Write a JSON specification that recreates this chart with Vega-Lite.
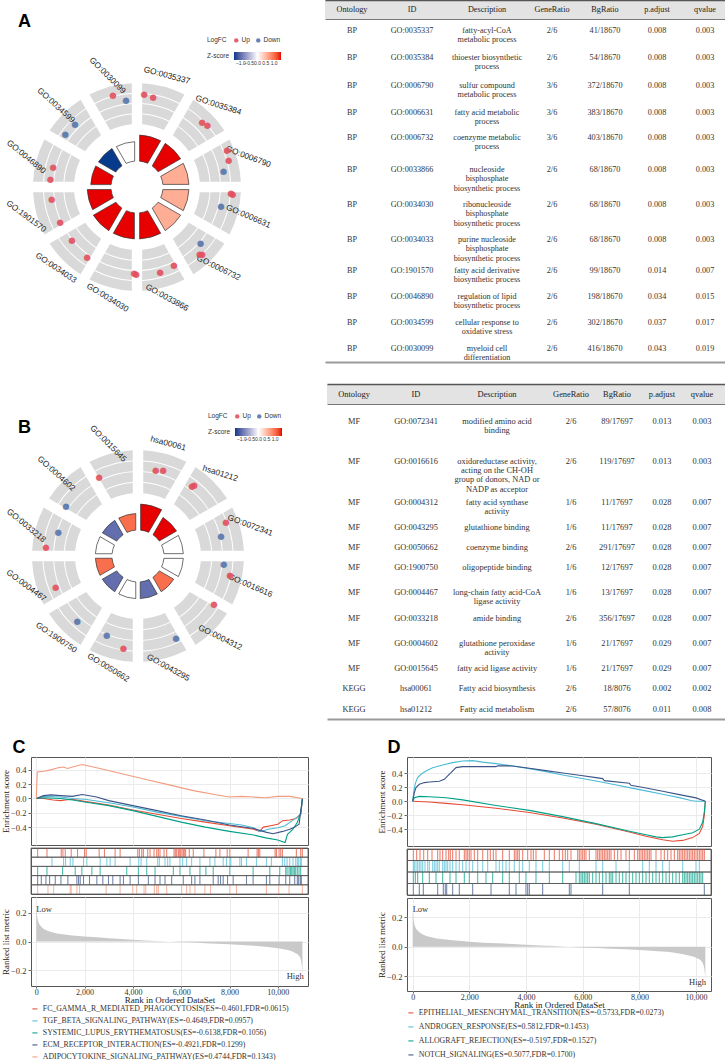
{
"$schema": "https://vega.github.io/schema/vega-lite/v6.json",
"background": "white",
"padding": {"left": 0, "top": 0, "right": 0, "bottom": 0},
"config": {
 "view": {"stroke": null},
 "font": "Liberation Sans",
 "axis": {"labelFont": "Liberation Serif", "titleFont": "Liberation Serif", "labelFontSize": 8.5, "titleFontSize": 9, "labelColor": "#333", "titleColor": "#222", "titleFontWeight": "normal", "tickColor": "#666", "domainColor": "#666", "gridColor": "#EBEBEB", "tickSize": 3, "labelPadding": 2},
 "title": {"font": "Liberation Sans", "fontSize": 18, "fontWeight": "bold", "anchor": "start", "color": "#000"}
},
"datasets": {
 "cols": [
  {"key": "ont", "c": 0, "h": "Ontology"}, {"key": "id", "c": 1, "h": "ID"}, {"key": "desc", "c": 2, "h": "Description"}, {"key": "gr", "c": 3, "h": "GeneRatio"}, {"key": "bg", "c": 4, "h": "BgRatio"}, {"key": "padj", "c": 5, "h": "p.adjust"}, {"key": "q", "c": 6, "h": "qvalue"}
 ],
 "tableA": [
  {"r": 1, "ont": "BP", "id": "GO:0035337", "desc": "fatty-acyl-CoA\nmetabolic process", "gr": "2/6", "bg": "41/18670", "padj": "0.008", "q": "0.003"},
  {"r": 2, "ont": "BP", "id": "GO:0035384", "desc": "thioester biosynthetic\nprocess", "gr": "2/6", "bg": "54/18670", "padj": "0.008", "q": "0.003"},
  {"r": 3, "ont": "BP", "id": "GO:0006790", "desc": "sulfur compound\nmetabolic process", "gr": "3/6", "bg": "372/18670", "padj": "0.008", "q": "0.003"},
  {"r": 4, "ont": "BP", "id": "GO:0006631", "desc": "fatty acid metabolic\nprocess", "gr": "3/6", "bg": "383/18670", "padj": "0.008", "q": "0.003"},
  {"r": 5, "ont": "BP", "id": "GO:0006732", "desc": "coenzyme metabolic\nprocess", "gr": "3/6", "bg": "403/18670", "padj": "0.008", "q": "0.003"},
  {"r": 6, "ont": "BP", "id": "GO:0033866", "desc": "nucleoside\nbisphosphate\nbiosynthetic process", "gr": "2/6", "bg": "68/18670", "padj": "0.008", "q": "0.003"},
  {"r": 7, "ont": "BP", "id": "GO:0034030", "desc": "ribonucleoside\nbisphosphate\nbiosynthetic process", "gr": "2/6", "bg": "68/18670", "padj": "0.008", "q": "0.003"},
  {"r": 8, "ont": "BP", "id": "GO:0034033", "desc": "purine nucleoside\nbisphosphate\nbiosynthetic process", "gr": "2/6", "bg": "68/18670", "padj": "0.008", "q": "0.003"},
  {"r": 9, "ont": "BP", "id": "GO:1901570", "desc": "fatty acid derivative\nbiosynthetic process", "gr": "2/6", "bg": "99/18670", "padj": "0.014", "q": "0.007"},
  {"r": 10, "ont": "BP", "id": "GO:0046890", "desc": "regulation of lipid\nbiosynthetic process", "gr": "2/6", "bg": "198/18670", "padj": "0.034", "q": "0.015"},
  {"r": 11, "ont": "BP", "id": "GO:0034599", "desc": "cellular response to\noxidative stress", "gr": "2/6", "bg": "302/18670", "padj": "0.037", "q": "0.017"},
  {"r": 12, "ont": "BP", "id": "GO:0030099", "desc": "myeloid cell\ndifferentiation", "gr": "2/6", "bg": "416/18670", "padj": "0.043", "q": "0.019"}
 ],
 "tableB": [
  {"r": 1, "ont": "MF", "id": "GO:0072341", "desc": "modified amino acid\nbinding", "gr": "2/6", "bg": "89/17697", "padj": "0.013", "q": "0.003"},
  {"r": 2, "ont": "MF", "id": "GO:0016616", "desc": "oxidoreductase activity,\nacting on the CH-OH\ngroup of donors, NAD or\nNADP as acceptor", "gr": "2/6", "bg": "119/17697", "padj": "0.013", "q": "0.003"},
  {"r": 3, "ont": "MF", "id": "GO:0004312", "desc": "fatty acid synthase\nactivity", "gr": "1/6", "bg": "11/17697", "padj": "0.028", "q": "0.007"},
  {"r": 4, "ont": "MF", "id": "GO:0043295", "desc": "glutathione binding", "gr": "1/6", "bg": "11/17697", "padj": "0.028", "q": "0.007"},
  {"r": 5, "ont": "MF", "id": "GO:0050662", "desc": "coenzyme binding", "gr": "2/6", "bg": "291/17697", "padj": "0.028", "q": "0.007"},
  {"r": 6, "ont": "MF", "id": "GO:1900750", "desc": "oligopeptide binding", "gr": "1/6", "bg": "12/17697", "padj": "0.028", "q": "0.007"},
  {"r": 7, "ont": "MF", "id": "GO:0004467", "desc": "long-chain fatty acid-CoA\nligase activity", "gr": "1/6", "bg": "13/17697", "padj": "0.028", "q": "0.007"},
  {"r": 8, "ont": "MF", "id": "GO:0033218", "desc": "amide binding", "gr": "2/6", "bg": "356/17697", "padj": "0.028", "q": "0.007"},
  {"r": 9, "ont": "MF", "id": "GO:0004602", "desc": "glutathione peroxidase\nactivity", "gr": "1/6", "bg": "21/17697", "padj": "0.029", "q": "0.007"},
  {"r": 10, "ont": "MF", "id": "GO:0015645", "desc": "fatty acid ligase activity", "gr": "1/6", "bg": "21/17697", "padj": "0.029", "q": "0.007"},
  {"r": 11, "ont": "KEGG", "id": "hsa00061", "desc": "Fatty acid biosynthesis", "gr": "2/6", "bg": "18/8076", "padj": "0.002", "q": "0.002"},
  {"r": 12, "ont": "KEGG", "id": "hsa01212", "desc": "Fatty acid metabolism", "gr": "2/6", "bg": "57/8076", "padj": "0.011", "q": "0.008"}
 ],
 "termsA": [
  {"k": 0, "term": "GO:0035337", "z": 1.414, "padj": 0.008},
  {"k": 1, "term": "GO:0035384", "z": 1.414, "padj": 0.008},
  {"k": 2, "term": "GO:0006790", "z": 0.577, "padj": 0.008},
  {"k": 3, "term": "GO:0006631", "z": 0.577, "padj": 0.008},
  {"k": 4, "term": "GO:0006732", "z": 0.577, "padj": 0.008},
  {"k": 5, "term": "GO:0033866", "z": 1.414, "padj": 0.008},
  {"k": 6, "term": "GO:0034030", "z": 1.414, "padj": 0.008},
  {"k": 7, "term": "GO:0034033", "z": 1.414, "padj": 0.008},
  {"k": 8, "term": "GO:1901570", "z": 1.414, "padj": 0.014},
  {"k": 9, "term": "GO:0046890", "z": 1.414, "padj": 0.034},
  {"k": 10, "term": "GO:0034599", "z": -1.414, "padj": 0.037},
  {"k": 11, "term": "GO:0030099", "z": 0, "padj": 0.043}
 ],
 "genesA": [
  {"term": "GO:0035337", "pos": 0.15, "lfc": 0.9, "dir": "Up"},
  {"term": "GO:0035337", "pos": 0.34, "lfc": 0.75, "dir": "Up"},
  {"term": "GO:0035384", "pos": 1.5, "lfc": 0.81, "dir": "Up"},
  {"term": "GO:0035384", "pos": 1.62, "lfc": 1.0, "dir": "Up"},
  {"term": "GO:0006790", "pos": 2.25, "lfc": 1.33, "dir": "Up"},
  {"term": "GO:0006790", "pos": 2.46, "lfc": 1.15, "dir": "Up"},
  {"term": "GO:0006790", "pos": 2.65, "lfc": 0.38, "dir": "Down"},
  {"term": "GO:0006631", "pos": 3.13, "lfc": 1.02, "dir": "Up"},
  {"term": "GO:0006631", "pos": 3.14, "lfc": 1.19, "dir": "Up"},
  {"term": "GO:0006631", "pos": 3.42, "lfc": 0.21, "dir": "Down"},
  {"term": "GO:0006732", "pos": 4.38, "lfc": 0.05, "dir": "Down"},
  {"term": "GO:0006732", "pos": 4.52, "lfc": 0.91, "dir": "Up"},
  {"term": "GO:0006732", "pos": 4.56, "lfc": 0.75, "dir": "Up"},
  {"term": "GO:0033866", "pos": 5.16, "lfc": 0.25, "dir": "Up"},
  {"term": "GO:0033866", "pos": 5.49, "lfc": 0.38, "dir": "Up"},
  {"term": "GO:0034030", "pos": 6.02, "lfc": 0.33, "dir": "Up"},
  {"term": "GO:0034030", "pos": 6.06, "lfc": 0.17, "dir": "Up"},
  {"term": "GO:0034033", "pos": 7.18, "lfc": 0.2, "dir": "Up"},
  {"term": "GO:0034033", "pos": 7.69, "lfc": 0.0, "dir": "Up"},
  {"term": "GO:1901570", "pos": 8.19, "lfc": 0.02, "dir": "Up"},
  {"term": "GO:1901570", "pos": 8.73, "lfc": 0.21, "dir": "Up"},
  {"term": "GO:0046890", "pos": 9.17, "lfc": 0.3, "dir": "Up"},
  {"term": "GO:0046890", "pos": 9.45, "lfc": 0.21, "dir": "Up"},
  {"term": "GO:0034599", "pos": 10.21, "lfc": 0.5, "dir": "Down"},
  {"term": "GO:0034599", "pos": 10.51, "lfc": 0.42, "dir": "Down"},
  {"term": "GO:0030099", "pos": 11.51, "lfc": 1.1, "dir": "Up"},
  {"term": "GO:0030099", "pos": 11.76, "lfc": 0.34, "dir": "Down"}
 ],
 "termsB": [
  {"k": 0, "term": "hsa00061", "z": 1.414, "padj": 0.002},
  {"k": 1, "term": "hsa01212", "z": 1.414, "padj": 0.011},
  {"k": 2, "term": "GO:0072341", "z": 0, "padj": 0.013},
  {"k": 3, "term": "GO:0016616", "z": 0, "padj": 0.013},
  {"k": 4, "term": "GO:0004312", "z": 1, "padj": 0.028},
  {"k": 5, "term": "GO:0043295", "z": -1, "padj": 0.028},
  {"k": 6, "term": "GO:0050662", "z": 0, "padj": 0.028},
  {"k": 7, "term": "GO:1900750", "z": -1, "padj": 0.028},
  {"k": 8, "term": "GO:0004467", "z": 1, "padj": 0.028},
  {"k": 9, "term": "GO:0033218", "z": 0, "padj": 0.028},
  {"k": 10, "term": "GO:0004602", "z": -1, "padj": 0.029},
  {"k": 11, "term": "GO:0015645", "z": 1, "padj": 0.029}
 ],
 "genesB": [
  {"term": "hsa00061", "pos": 0.39, "lfc": 0.38, "dir": "Up"},
  {"term": "hsa00061", "pos": 0.54, "lfc": 0.59, "dir": "Up"},
  {"term": "hsa01212", "pos": 1.26, "lfc": 0.42, "dir": "Up"},
  {"term": "hsa01212", "pos": 1.28, "lfc": 0.64, "dir": "Up"},
  {"term": "GO:0072341", "pos": 2.3, "lfc": 1.02, "dir": "Up"},
  {"term": "GO:0072341", "pos": 2.55, "lfc": 0.14, "dir": "Down"},
  {"term": "GO:0016616", "pos": 3.18, "lfc": 0.21, "dir": "Down"},
  {"term": "GO:0016616", "pos": 3.38, "lfc": 0.99, "dir": "Up"},
  {"term": "GO:0004312", "pos": 4.08, "lfc": 0.6, "dir": "Up"},
  {"term": "GO:0043295", "pos": 5.17, "lfc": 0.6, "dir": "Down"},
  {"term": "GO:0050662", "pos": 6.3, "lfc": 0.95, "dir": "Up"},
  {"term": "GO:0050662", "pos": 6.72, "lfc": 0.1, "dir": "Down"},
  {"term": "GO:1900750", "pos": 7.44, "lfc": 0.47, "dir": "Down"},
  {"term": "GO:0004467", "pos": 8.31, "lfc": 0.4, "dir": "Up"},
  {"term": "GO:0033218", "pos": 9.18, "lfc": 0.84, "dir": "Up"},
  {"term": "GO:0033218", "pos": 9.55, "lfc": -0.09, "dir": "Down"},
  {"term": "GO:0004602", "pos": 10.16, "lfc": 0.38, "dir": "Down"},
  {"term": "GO:0015645", "pos": 11.13, "lfc": 0.42, "dir": "Up"}
 ],
 "setsC": [
  {"g": "FC", "label": "FC_GAMMA_R_MEDIATED_PHAGOCYTOSIS(ES=-0.4601,FDR=0.0615)"},
  {"g": "TGF", "label": "TGF_BETA_SIGNALING_PATHWAY(ES=-0.4649,FDR=0.0957)"},
  {"g": "SLE", "label": "SYSTEMIC_LUPUS_ERYTHEMATOSUS(ES=-0.6138,FDR=0.1056)"},
  {"g": "ECM", "label": "ECM_RECEPTOR_INTERACTION(ES=-0.4921,FDR=0.1299)"},
  {"g": "ADIPO", "label": "ADIPOCYTOKINE_SIGNALING_PATHWAY(ES=0.4744,FDR=0.1343)"}
 ],
 "setsD": [
  {"g": "EMT", "label": "EPITHELIAL_MESENCHYMAL_TRANSITION(ES=-0.5733,FDR=0.0273)"},
  {"g": "AND", "label": "ANDROGEN_RESPONSE(ES=0.5812,FDR=0.1453)"},
  {"g": "ALLO", "label": "ALLOGRAFT_REJECTION(ES=-0.5197,FDR=0.1527)"},
  {"g": "NOTCH", "label": "NOTCH_SIGNALING(ES=0.5077,FDR=0.1700)"}
 ],
 "esC": [
  {"g":"FC","x":0,"y":0},{"g":"FC","x":300,"y":0.0},{"g":"FC","x":700,"y":-0.02},{"g":"FC","x":1000,"y":-0.03},{"g":"FC","x":1200,"y":-0.02},{"g":"FC","x":1500,"y":-0.01},{"g":"FC","x":2000,"y":-0.04},{"g":"FC","x":3000,"y":-0.09},{"g":"FC","x":4000,"y":-0.16},{"g":"FC","x":5000,"y":-0.22},{"g":"FC","x":6000,"y":-0.28},{"g":"FC","x":7000,"y":-0.33},{"g":"FC","x":8000,"y":-0.38},{"g":"FC","x":9000,"y":-0.43},{"g":"FC","x":9250,"y":-0.46},{"g":"FC","x":9400,"y":-0.4},{"g":"FC","x":9700,"y":-0.38},{"g":"FC","x":10000,"y":-0.36},{"g":"FC","x":10200,"y":-0.31},{"g":"FC","x":10500,"y":-0.3},{"g":"FC","x":10750,"y":-0.28},{"g":"FC","x":10950,"y":-0.22},{"g":"FC","x":11020,"y":0},
  {"g":"TGF","x":0,"y":0},{"g":"TGF","x":300,"y":0.03},{"g":"TGF","x":1000,"y":0.02},{"g":"TGF","x":1500,"y":0.0},{"g":"TGF","x":2000,"y":-0.01},{"g":"TGF","x":3000,"y":-0.06},{"g":"TGF","x":4000,"y":-0.12},{"g":"TGF","x":5000,"y":-0.19},{"g":"TGF","x":6000,"y":-0.25},{"g":"TGF","x":7000,"y":-0.31},{"g":"TGF","x":8000,"y":-0.35},{"g":"TGF","x":8500,"y":-0.37},{"g":"TGF","x":9000,"y":-0.41},{"g":"TGF","x":9250,"y":-0.465},{"g":"TGF","x":9600,"y":-0.43},{"g":"TGF","x":10000,"y":-0.41},{"g":"TGF","x":10300,"y":-0.38},{"g":"TGF","x":10600,"y":-0.31},{"g":"TGF","x":10800,"y":-0.26},{"g":"TGF","x":10950,"y":-0.22},{"g":"TGF","x":11020,"y":0},
  {"g":"SLE","x":0,"y":0},{"g":"SLE","x":300,"y":0.01},{"g":"SLE","x":1000,"y":0.0},{"g":"SLE","x":1500,"y":-0.02},{"g":"SLE","x":2000,"y":-0.05},{"g":"SLE","x":3000,"y":-0.1},{"g":"SLE","x":4000,"y":-0.17},{"g":"SLE","x":5000,"y":-0.25},{"g":"SLE","x":6000,"y":-0.33},{"g":"SLE","x":7000,"y":-0.4},{"g":"SLE","x":8000,"y":-0.46},{"g":"SLE","x":9000,"y":-0.51},{"g":"SLE","x":9500,"y":-0.55},{"g":"SLE","x":10000,"y":-0.58},{"g":"SLE","x":10300,"y":-0.614},{"g":"SLE","x":10400,"y":-0.5},{"g":"SLE","x":10600,"y":-0.44},{"g":"SLE","x":10800,"y":-0.34},{"g":"SLE","x":10950,"y":-0.2},{"g":"SLE","x":11020,"y":0},
  {"g":"ECM","x":0,"y":0},{"g":"ECM","x":300,"y":0.04},{"g":"ECM","x":600,"y":0.05},{"g":"ECM","x":1000,"y":0.04},{"g":"ECM","x":1500,"y":0.03},{"g":"ECM","x":1900,"y":0.055},{"g":"ECM","x":2500,"y":0.02},{"g":"ECM","x":3000,"y":-0.03},{"g":"ECM","x":4000,"y":-0.1},{"g":"ECM","x":5000,"y":-0.17},{"g":"ECM","x":6000,"y":-0.24},{"g":"ECM","x":7000,"y":-0.3},{"g":"ECM","x":8000,"y":-0.37},{"g":"ECM","x":9000,"y":-0.42},{"g":"ECM","x":9500,"y":-0.47},{"g":"ECM","x":9800,"y":-0.492},{"g":"ECM","x":10200,"y":-0.46},{"g":"ECM","x":10500,"y":-0.43},{"g":"ECM","x":10700,"y":-0.4},{"g":"ECM","x":10880,"y":-0.36},{"g":"ECM","x":10960,"y":-0.15},{"g":"ECM","x":11020,"y":0},
  {"g":"ADIPO","x":0,"y":0},{"g":"ADIPO","x":40,"y":0.37},{"g":"ADIPO","x":300,"y":0.38},{"g":"ADIPO","x":600,"y":0.4},{"g":"ADIPO","x":900,"y":0.43},{"g":"ADIPO","x":1100,"y":0.44},{"g":"ADIPO","x":1300,"y":0.42},{"g":"ADIPO","x":1500,"y":0.44},{"g":"ADIPO","x":1900,"y":0.474},{"g":"ADIPO","x":2500,"y":0.43},{"g":"ADIPO","x":3500,"y":0.35},{"g":"ADIPO","x":4500,"y":0.27},{"g":"ADIPO","x":5500,"y":0.19},{"g":"ADIPO","x":6500,"y":0.11},{"g":"ADIPO","x":7500,"y":0.05},{"g":"ADIPO","x":8000,"y":0.02},{"g":"ADIPO","x":8500,"y":0.03},{"g":"ADIPO","x":9000,"y":0.02},{"g":"ADIPO","x":9500,"y":0.01},{"g":"ADIPO","x":10000,"y":0.03},{"g":"ADIPO","x":10500,"y":0.03},{"g":"ADIPO","x":11020,"y":0}
 ],
 "rugC": [
  {"g":"FC","x":55},{"g":"FC","x":441},{"g":"FC","x":1033},{"g":"FC","x":1102},{"g":"FC","x":1198},{"g":"FC","x":1446},{"g":"FC","x":1707},{"g":"FC","x":1997},{"g":"FC","x":2066},{"g":"FC","x":2603},{"g":"FC","x":2823},{"g":"FC","x":3263},{"g":"FC","x":3470},{"g":"FC","x":4200},{"g":"FC","x":4269},{"g":"FC","x":4365},{"g":"FC","x":4434},{"g":"FC","x":4613},{"g":"FC","x":4709},{"g":"FC","x":4875},{"g":"FC","x":4985},{"g":"FC","x":5054},{"g":"FC","x":5122},{"g":"FC","x":5288},{"g":"FC","x":5398},{"g":"FC","x":5701},{"g":"FC","x":5756},{"g":"FC","x":5811},{"g":"FC","x":5880},{"g":"FC","x":5921},{"g":"FC","x":5976},{"g":"FC","x":6031},{"g":"FC","x":6086},{"g":"FC","x":6128},{"g":"FC","x":6183},{"g":"FC","x":6334},{"g":"FC","x":6499},{"g":"FC","x":6940},{"g":"FC","x":7436},{"g":"FC","x":7601},{"g":"FC","x":7904},{"g":"FC","x":8014},{"g":"FC","x":8771},{"g":"FC","x":9143},{"g":"FC","x":9198},{"g":"FC","x":9253},{"g":"FC","x":9887},{"g":"FC","x":9942},{"g":"FC","x":10052},{"g":"FC","x":10121},{"g":"FC","x":10190},{"g":"FC","x":10768},{"g":"FC","x":10947},{"g":"FC","x":11016},
  {"g":"TGF","x":647},{"g":"TGF","x":1129},{"g":"TGF","x":1212},{"g":"TGF","x":1405},{"g":"TGF","x":1515},{"g":"TGF","x":1955},{"g":"TGF","x":2093},{"g":"TGF","x":2644},{"g":"TGF","x":2919},{"g":"TGF","x":3057},{"g":"TGF","x":3263},{"g":"TGF","x":3883},{"g":"TGF","x":4241},{"g":"TGF","x":4338},{"g":"TGF","x":4572},{"g":"TGF","x":5026},{"g":"TGF","x":5095},{"g":"TGF","x":5329},{"g":"TGF","x":5439},{"g":"TGF","x":5535},{"g":"TGF","x":5949},{"g":"TGF","x":6059},{"g":"TGF","x":6224},{"g":"TGF","x":6431},{"g":"TGF","x":6775},{"g":"TGF","x":7188},{"g":"TGF","x":7394},{"g":"TGF","x":7739},{"g":"TGF","x":7876},{"g":"TGF","x":8014},{"g":"TGF","x":8055},{"g":"TGF","x":8427},{"g":"TGF","x":8496},{"g":"TGF","x":8703},{"g":"TGF","x":9116},{"g":"TGF","x":9529},{"g":"TGF","x":9735},{"g":"TGF","x":10190},{"g":"TGF","x":10286},{"g":"TGF","x":10383},{"g":"TGF","x":10493},{"g":"TGF","x":10630},{"g":"TGF","x":10741},{"g":"TGF","x":10809},{"g":"TGF","x":10864},{"g":"TGF","x":10933},{"g":"TGF","x":10975},
  {"g":"SLE","x":55},{"g":"SLE","x":441},{"g":"SLE","x":1088},{"g":"SLE","x":1611},{"g":"SLE","x":1886},{"g":"SLE","x":2300},{"g":"SLE","x":2644},{"g":"SLE","x":3745},{"g":"SLE","x":4227},{"g":"SLE","x":4572},{"g":"SLE","x":4916},{"g":"SLE","x":5673},{"g":"SLE","x":5949},{"g":"SLE","x":6362},{"g":"SLE","x":6775},{"g":"SLE","x":7023},{"g":"SLE","x":7326},{"g":"SLE","x":8014},{"g":"SLE","x":8978},{"g":"SLE","x":9667},{"g":"SLE","x":10080},{"g":"SLE","x":10328},{"g":"SLE","x":10383},{"g":"SLE","x":10465},{"g":"SLE","x":10520},{"g":"SLE","x":10575},{"g":"SLE","x":10630},{"g":"SLE","x":10686},{"g":"SLE","x":10741},{"g":"SLE","x":10809},{"g":"SLE","x":10878},{"g":"SLE","x":10947},
  {"g":"ECM","x":55},{"g":"ECM","x":207},{"g":"ECM","x":399},{"g":"ECM","x":551},{"g":"ECM","x":785},{"g":"ECM","x":1019},{"g":"ECM","x":1308},{"g":"ECM","x":1680},{"g":"ECM","x":1749},{"g":"ECM","x":1818},{"g":"ECM","x":1955},{"g":"ECM","x":2203},{"g":"ECM","x":2506},{"g":"ECM","x":2754},{"g":"ECM","x":2988},{"g":"ECM","x":3167},{"g":"ECM","x":3470},{"g":"ECM","x":3608},{"g":"ECM","x":3883},{"g":"ECM","x":4227},{"g":"ECM","x":4640},{"g":"ECM","x":4916},{"g":"ECM","x":5122},{"g":"ECM","x":5329},{"g":"ECM","x":5604},{"g":"ECM","x":6086},{"g":"ECM","x":6431},{"g":"ECM","x":6568},{"g":"ECM","x":6775},{"g":"ECM","x":7326},{"g":"ECM","x":7532},{"g":"ECM","x":7629},{"g":"ECM","x":7739},{"g":"ECM","x":7918},{"g":"ECM","x":8152},{"g":"ECM","x":8703},{"g":"ECM","x":8978},{"g":"ECM","x":9529},{"g":"ECM","x":9667},{"g":"ECM","x":10052},{"g":"ECM","x":10328},{"g":"ECM","x":10493},{"g":"ECM","x":10699},{"g":"ECM","x":10809},{"g":"ECM","x":10864},{"g":"ECM","x":10933},{"g":"ECM","x":10975},
  {"g":"ADIPO","x":55},{"g":"ADIPO","x":482},{"g":"ADIPO","x":716},{"g":"ADIPO","x":1405},{"g":"ADIPO","x":1446},{"g":"ADIPO","x":1680},{"g":"ADIPO","x":1790},{"g":"ADIPO","x":2892},{"g":"ADIPO","x":3470},{"g":"ADIPO","x":3993},{"g":"ADIPO","x":4159},{"g":"ADIPO","x":4461},{"g":"ADIPO","x":4530},{"g":"ADIPO","x":4888},{"g":"ADIPO","x":4985},{"g":"ADIPO","x":5054},{"g":"ADIPO","x":5398},{"g":"ADIPO","x":6017},{"g":"ADIPO","x":6224},{"g":"ADIPO","x":6362},{"g":"ADIPO","x":6568},{"g":"ADIPO","x":6981},{"g":"ADIPO","x":7215},{"g":"ADIPO","x":8014},{"g":"ADIPO","x":8290},{"g":"ADIPO","x":9529},{"g":"ADIPO","x":10038},{"g":"ADIPO","x":10465},{"g":"ADIPO","x":11016}
 ],
 "metricC": [
  {"x":0,"m":0.25},{"x":20,"m":0.2},{"x":50,"m":0.16},{"x":100,"m":0.13},{"x":200,"m":0.105},{"x":400,"m":0.08},{"x":700,"m":0.063},{"x":1000,"m":0.052},{"x":1500,"m":0.042},{"x":2000,"m":0.034},{"x":3000,"m":0.023},{"x":4000,"m":0.013},{"x":5000,"m":0.004},{"x":6000,"m":-0.004},{"x":7000,"m":-0.012},{"x":8000,"m":-0.02},{"x":9000,"m":-0.03},{"x":9500,"m":-0.037},{"x":10000,"m":-0.047},{"x":10400,"m":-0.06},{"x":10700,"m":-0.078},{"x":10900,"m":-0.105},{"x":10980,"m":-0.15},{"x":11020,"m":-0.23}
 ],
 "esD": [
  {"g":"EMT","x":0,"y":0},{"g":"EMT","x":588,"y":-0.01},{"g":"EMT","x":1176,"y":-0.03},{"g":"EMT","x":1764,"y":-0.05},{"g":"EMT","x":2940,"y":-0.1},{"g":"EMT","x":4116,"y":-0.16},{"g":"EMT","x":5292,"y":-0.24},{"g":"EMT","x":6468,"y":-0.33},{"g":"EMT","x":7644,"y":-0.44},{"g":"EMT","x":8232,"y":-0.5},{"g":"EMT","x":8820,"y":-0.55},{"g":"EMT","x":9173,"y":-0.573},{"g":"EMT","x":9526,"y":-0.56},{"g":"EMT","x":9878,"y":-0.52},{"g":"EMT","x":10114,"y":-0.46},{"g":"EMT","x":10231,"y":-0.36},{"g":"EMT","x":10290,"y":-0.2},{"g":"EMT","x":10325,"y":0},
  {"g":"AND","x":0,"y":0},{"g":"AND","x":35,"y":0.124},{"g":"AND","x":94,"y":0.257},{"g":"AND","x":176,"y":0.338},{"g":"AND","x":294,"y":0.386},{"g":"AND","x":470,"y":0.433},{"g":"AND","x":706,"y":0.48},{"g":"AND","x":1058,"y":0.519},{"g":"AND","x":1411,"y":0.552},{"g":"AND","x":1764,"y":0.576},{"g":"AND","x":2117,"y":0.581},{"g":"AND","x":2470,"y":0.56},{"g":"AND","x":2940,"y":0.538},{"g":"AND","x":3528,"y":0.505},{"g":"AND","x":4116,"y":0.467},{"g":"AND","x":4704,"y":0.424},{"g":"AND","x":5292,"y":0.376},{"g":"AND","x":5880,"y":0.333},{"g":"AND","x":6468,"y":0.29},{"g":"AND","x":7056,"y":0.243},{"g":"AND","x":7644,"y":0.195},{"g":"AND","x":8232,"y":0.148},{"g":"AND","x":8820,"y":0.1},{"g":"AND","x":9408,"y":0.052},{"g":"AND","x":9820,"y":0.01},{"g":"AND","x":9996,"y":0.0},{"g":"AND","x":10325,"y":0},
  {"g":"ALLO","x":0,"y":0},{"g":"ALLO","x":59,"y":0.05},{"g":"ALLO","x":235,"y":0.07},{"g":"ALLO","x":588,"y":0.065},{"g":"ALLO","x":1176,"y":0.05},{"g":"ALLO","x":1764,"y":0.02},{"g":"ALLO","x":2940,"y":-0.06},{"g":"ALLO","x":4116,"y":-0.13},{"g":"ALLO","x":5292,"y":-0.22},{"g":"ALLO","x":6468,"y":-0.32},{"g":"ALLO","x":7644,"y":-0.43},{"g":"ALLO","x":8232,"y":-0.48},{"g":"ALLO","x":8585,"y":-0.51},{"g":"ALLO","x":8820,"y":-0.52},{"g":"ALLO","x":9173,"y":-0.51},{"g":"ALLO","x":9526,"y":-0.48},{"g":"ALLO","x":9878,"y":-0.45},{"g":"ALLO","x":10114,"y":-0.4},{"g":"ALLO","x":10231,"y":-0.3},{"g":"ALLO","x":10290,"y":-0.15},{"g":"ALLO","x":10325,"y":0},
  {"g":"NOTCH","x":0,"y":0},{"g":"NOTCH","x":59,"y":0.124},{"g":"NOTCH","x":118,"y":0.195},{"g":"NOTCH","x":235,"y":0.243},{"g":"NOTCH","x":412,"y":0.267},{"g":"NOTCH","x":588,"y":0.276},{"g":"NOTCH","x":941,"y":0.286},{"g":"NOTCH","x":1117,"y":0.314},{"g":"NOTCH","x":1235,"y":0.362},{"g":"NOTCH","x":1353,"y":0.409},{"g":"NOTCH","x":1529,"y":0.481},{"g":"NOTCH","x":1764,"y":0.495},{"g":"NOTCH","x":2940,"y":0.495},{"g":"NOTCH","x":3000,"y":0.508},{"g":"NOTCH","x":3528,"y":0.505},{"g":"NOTCH","x":4116,"y":0.471},{"g":"NOTCH","x":4704,"y":0.438},{"g":"NOTCH","x":5292,"y":0.405},{"g":"NOTCH","x":5880,"y":0.371},{"g":"NOTCH","x":6468,"y":0.338},{"g":"NOTCH","x":6703,"y":0.324},{"g":"NOTCH","x":6762,"y":0.295},{"g":"NOTCH","x":7644,"y":0.257},{"g":"NOTCH","x":7703,"y":0.228},{"g":"NOTCH","x":8232,"y":0.19},{"g":"NOTCH","x":8820,"y":0.143},{"g":"NOTCH","x":9408,"y":0.095},{"g":"NOTCH","x":9996,"y":0.048},{"g":"NOTCH","x":10325,"y":0}
 ],
 "rugD": [
  {"g":"EMT","x":24},{"g":"EMT","x":141},{"g":"EMT","x":259},{"g":"EMT","x":388},{"g":"EMT","x":529},{"g":"EMT","x":682},{"g":"EMT","x":882},{"g":"EMT","x":964},{"g":"EMT","x":1058},{"g":"EMT","x":1176},{"g":"EMT","x":1270},{"g":"EMT","x":1329},{"g":"EMT","x":1411},{"g":"EMT","x":1529},{"g":"EMT","x":1646},{"g":"EMT","x":1823},{"g":"EMT","x":1882},{"g":"EMT","x":1940},{"g":"EMT","x":1999},{"g":"EMT","x":2058},{"g":"EMT","x":2176},{"g":"EMT","x":2293},{"g":"EMT","x":2470},{"g":"EMT","x":2646},{"g":"EMT","x":2740},{"g":"EMT","x":2846},{"g":"EMT","x":2940},{"g":"EMT","x":3175},{"g":"EMT","x":3410},{"g":"EMT","x":3587},{"g":"EMT","x":3646},{"g":"EMT","x":3704},{"g":"EMT","x":3763},{"g":"EMT","x":3881},{"g":"EMT","x":4057},{"g":"EMT","x":4175},{"g":"EMT","x":4257},{"g":"EMT","x":4351},{"g":"EMT","x":4645},{"g":"EMT","x":4822},{"g":"EMT","x":4998},{"g":"EMT","x":5174},{"g":"EMT","x":5292},{"g":"EMT","x":5386},{"g":"EMT","x":5468},{"g":"EMT","x":5586},{"g":"EMT","x":5821},{"g":"EMT","x":5880},{"g":"EMT","x":5939},{"g":"EMT","x":5998},{"g":"EMT","x":6056},{"g":"EMT","x":6115},{"g":"EMT","x":6233},{"g":"EMT","x":6468},{"g":"EMT","x":6527},{"g":"EMT","x":6586},{"g":"EMT","x":6644},{"g":"EMT","x":6703},{"g":"EMT","x":6762},{"g":"EMT","x":6821},{"g":"EMT","x":6880},{"g":"EMT","x":6938},{"g":"EMT","x":6997},{"g":"EMT","x":7115},{"g":"EMT","x":7232},{"g":"EMT","x":7350},{"g":"EMT","x":7526},{"g":"EMT","x":7644},{"g":"EMT","x":7820},{"g":"EMT","x":7938},{"g":"EMT","x":7997},{"g":"EMT","x":8056},{"g":"EMT","x":8114},{"g":"EMT","x":8173},{"g":"EMT","x":8232},{"g":"EMT","x":8291},{"g":"EMT","x":8350},{"g":"EMT","x":8408},{"g":"EMT","x":8585},{"g":"EMT","x":8761},{"g":"EMT","x":8879},{"g":"EMT","x":8996},{"g":"EMT","x":9114},{"g":"EMT","x":9232},{"g":"EMT","x":9349},{"g":"EMT","x":9408},{"g":"EMT","x":9467},{"g":"EMT","x":9526},{"g":"EMT","x":9584},{"g":"EMT","x":9643},{"g":"EMT","x":9702},{"g":"EMT","x":9761},{"g":"EMT","x":9820},{"g":"EMT","x":9878},{"g":"EMT","x":9937},{"g":"EMT","x":9996},{"g":"EMT","x":10055},{"g":"EMT","x":10114},{"g":"EMT","x":10172},{"g":"EMT","x":10231},{"g":"EMT","x":10290},
  {"g":"AND","x":24},{"g":"AND","x":59},{"g":"AND","x":118},{"g":"AND","x":176},{"g":"AND","x":235},{"g":"AND","x":294},{"g":"AND","x":353},{"g":"AND","x":435},{"g":"AND","x":529},{"g":"AND","x":588},{"g":"AND","x":706},{"g":"AND","x":764},{"g":"AND","x":823},{"g":"AND","x":882},{"g":"AND","x":941},{"g":"AND","x":1058},{"g":"AND","x":1117},{"g":"AND","x":1176},{"g":"AND","x":1235},{"g":"AND","x":1317},{"g":"AND","x":1411},{"g":"AND","x":1529},{"g":"AND","x":1646},{"g":"AND","x":1764},{"g":"AND","x":1882},{"g":"AND","x":1999},{"g":"AND","x":2117},{"g":"AND","x":2293},{"g":"AND","x":2470},{"g":"AND","x":2646},{"g":"AND","x":2940},{"g":"AND","x":3058},{"g":"AND","x":3175},{"g":"AND","x":3293},{"g":"AND","x":3410},{"g":"AND","x":3587},{"g":"AND","x":3763},{"g":"AND","x":3881},{"g":"AND","x":4116},{"g":"AND","x":4351},{"g":"AND","x":4586},{"g":"AND","x":4822},{"g":"AND","x":5292},{"g":"AND","x":5527},{"g":"AND","x":5880},{"g":"AND","x":6468},{"g":"AND","x":6703},{"g":"AND","x":7174},{"g":"AND","x":7644},{"g":"AND","x":8114},{"g":"AND","x":8350},{"g":"AND","x":8585},{"g":"AND","x":8820},{"g":"AND","x":9055},{"g":"AND","x":9526},{"g":"AND","x":9996},{"g":"AND","x":10114},
  {"g":"ALLO","x":24},{"g":"ALLO","x":94},{"g":"ALLO","x":176},{"g":"ALLO","x":353},{"g":"ALLO","x":588},{"g":"ALLO","x":823},{"g":"ALLO","x":1058},{"g":"ALLO","x":1317},{"g":"ALLO","x":1529},{"g":"ALLO","x":1823},{"g":"ALLO","x":1999},{"g":"ALLO","x":2293},{"g":"ALLO","x":2587},{"g":"ALLO","x":2822},{"g":"ALLO","x":3175},{"g":"ALLO","x":3410},{"g":"ALLO","x":3763},{"g":"ALLO","x":3998},{"g":"ALLO","x":4351},{"g":"ALLO","x":4822},{"g":"ALLO","x":5292},{"g":"ALLO","x":5762},{"g":"ALLO","x":5880},{"g":"ALLO","x":5939},{"g":"ALLO","x":5998},{"g":"ALLO","x":6056},{"g":"ALLO","x":6115},{"g":"ALLO","x":6174},{"g":"ALLO","x":6233},{"g":"ALLO","x":6350},{"g":"ALLO","x":6468},{"g":"ALLO","x":6586},{"g":"ALLO","x":6703},{"g":"ALLO","x":6821},{"g":"ALLO","x":6938},{"g":"ALLO","x":6997},{"g":"ALLO","x":7056},{"g":"ALLO","x":7174},{"g":"ALLO","x":7291},{"g":"ALLO","x":7409},{"g":"ALLO","x":7526},{"g":"ALLO","x":7644},{"g":"ALLO","x":7762},{"g":"ALLO","x":7879},{"g":"ALLO","x":7997},{"g":"ALLO","x":8114},{"g":"ALLO","x":8232},{"g":"ALLO","x":8350},{"g":"ALLO","x":8467},{"g":"ALLO","x":8585},{"g":"ALLO","x":8702},{"g":"ALLO","x":8820},{"g":"ALLO","x":8938},{"g":"ALLO","x":9055},{"g":"ALLO","x":9173},{"g":"ALLO","x":9290},{"g":"ALLO","x":9408},{"g":"ALLO","x":9526},{"g":"ALLO","x":9584},{"g":"ALLO","x":9643},{"g":"ALLO","x":9702},{"g":"ALLO","x":9761},{"g":"ALLO","x":9820},{"g":"ALLO","x":9878},{"g":"ALLO","x":9937},{"g":"ALLO","x":9996},{"g":"ALLO","x":10055},{"g":"ALLO","x":10114},{"g":"ALLO","x":10172},{"g":"ALLO","x":10231},
  {"g":"NOTCH","x":24},{"g":"NOTCH","x":235},{"g":"NOTCH","x":376},{"g":"NOTCH","x":882},{"g":"NOTCH","x":1082},{"g":"NOTCH","x":1152},{"g":"NOTCH","x":1200},{"g":"NOTCH","x":1411},{"g":"NOTCH","x":1646},{"g":"NOTCH","x":2117},{"g":"NOTCH","x":2764},{"g":"NOTCH","x":3410},{"g":"NOTCH","x":3646},{"g":"NOTCH","x":3998},{"g":"NOTCH","x":4057},{"g":"NOTCH","x":4116},{"g":"NOTCH","x":4586},{"g":"NOTCH","x":5527},{"g":"NOTCH","x":5586},{"g":"NOTCH","x":6703},{"g":"NOTCH","x":7644},{"g":"NOTCH","x":10290}
 ],
 "metricD": [
  {"x":0,"m":0.25},{"x":20,"m":0.2},{"x":50,"m":0.16},{"x":100,"m":0.13},{"x":200,"m":0.105},{"x":400,"m":0.08},{"x":700,"m":0.063},{"x":1000,"m":0.052},{"x":1500,"m":0.042},{"x":2000,"m":0.034},{"x":3000,"m":0.023},{"x":4000,"m":0.013},{"x":5000,"m":0.004},{"x":6000,"m":-0.005},{"x":7000,"m":-0.013},{"x":8000,"m":-0.022},{"x":8800,"m":-0.033},{"x":9300,"m":-0.043},{"x":9700,"m":-0.058},{"x":10000,"m":-0.075},{"x":10200,"m":-0.1},{"x":10290,"m":-0.15},{"x":10325,"m":-0.22}
 ]
},
"vconcat": [
 {
  "hconcat": [
   {
    "title": {"text": "A", "offset": -31, "dx": 13},
    "width": 212, "height": 374,
    "resolve": {"scale": {"radius": "independent"}},
    "layer": [
     {"data": {"name": "termsA"}, "mark": {"type": "arc", "radius": 104, "radius2": 63, "padAngle": 0.085, "fill": "#D9D9D9"},
      "encoding": {"theta": {"aggregate": "count", "type": "quantitative", "stack": true, "scale": {"domain": [0, 12]}}, "detail": {"field": "term", "type": "nominal"}, "order": {"field": "k", "type": "quantitative"}}},
     {"data": {"name": "termsA"}, "mark": {"type": "arc", "radius": 73.8, "radius2": 72.8, "padAngle": 0.05, "fill": "#FFFFFF"},
      "encoding": {"theta": {"aggregate": "count", "type": "quantitative", "stack": true, "scale": {"domain": [0, 12]}}, "detail": {"field": "term", "type": "nominal"}, "order": {"field": "k", "type": "quantitative"}}},
     {"data": {"name": "termsA"}, "mark": {"type": "arc", "radius": 84, "radius2": 83, "padAngle": 0.05, "fill": "#FFFFFF"},
      "encoding": {"theta": {"aggregate": "count", "type": "quantitative", "stack": true, "scale": {"domain": [0, 12]}}, "detail": {"field": "term", "type": "nominal"}, "order": {"field": "k", "type": "quantitative"}}},
     {"data": {"name": "termsA"}, "mark": {"type": "arc", "radius": 94.2, "radius2": 93.2, "padAngle": 0.05, "fill": "#FFFFFF"},
      "encoding": {"theta": {"aggregate": "count", "type": "quantitative", "stack": true, "scale": {"domain": [0, 12]}}, "detail": {"field": "term", "type": "nominal"}, "order": {"field": "k", "type": "quantitative"}}},
     {"data": {"name": "termsA"},
      "transform": [{"aggregate": [{"op": "count", "as": "n"}], "groupby": ["k", "term", "z", "padj"]}, {"stack": "n", "groupby": [], "sort": [{"field": "k", "order": "ascending"}], "as": ["t0", "t1"]}],
      "mark": {"type": "arc", "radius2": 26, "padAngle": 0.09, "stroke": "#333333", "strokeWidth": 0.7},
      "encoding": {
       "theta": {"field": "t0", "type": "quantitative", "stack": null, "scale": {"domain": [0, 12]}},
       "theta2": {"field": "t1"},
       "radius": {"field": "padj", "type": "quantitative", "scale": {"type": "log", "domain": [1, 0.008], "range": [33, 52]}},
       "fill": {"field": "z", "type": "quantitative", "scale": {"domain": [-1.414, 0, 1.414], "range": ["#083A8C", "#FFFFFF", "#E60000"], "interpolate": "lab"},
        "legend": {"title": "Z-score", "orient": "none", "legendX": 176, "legendY": 52, "direction": "horizontal", "titleOrient": "left", "gradientLength": 47, "gradientThickness": 8, "values": [-1, -0.5, 0, 0.5, 1], "format": ".1f", "labelOverlap": false, "labelFontSize": 5, "labelFont": "Liberation Sans", "titleFont": "Liberation Sans", "titleFontSize": 6.5, "titleFontWeight": "normal", "titleColor": "#333", "labelColor": "#333", "titlePadding": 4, "gradientStrokeWidth": 0, "labelOffset": 1}}
      }},
     {"data": {"name": "termsA"}, "mark": {"type": "text", "radius": 115, "font": "Liberation Sans", "fontSize": 8.3, "color": "#222222"},
      "encoding": {
       "theta": {"aggregate": "count", "type": "quantitative", "stack": true, "scale": {"domain": [0, 12]}},
       "detail": {"field": "term", "type": "nominal"}, "order": {"field": "k", "type": "quantitative"},
       "text": {"field": "term", "type": "nominal"},
       "angle": {"field": "term", "type": "ordinal", "scale": {"domain": ["GO:0035337","GO:0035384","GO:0006790","GO:0006631","GO:0006732","GO:0033866","GO:0034030","GO:0034033","GO:1901570","GO:0046890","GO:0034599","GO:0030099"], "range": [15,45,75,-75,-45,-15,15,45,75,-75,-45,-15]}, "legend": null}
      }},
     {"data": {"name": "genesA"}, "mark": {"type": "text", "text": "●", "font": "DejaVu Sans", "fontSize": 8.5, "opacity": 0.9},
      "encoding": {
       "theta": {"field": "pos", "type": "quantitative", "scale": {"domain": [0, 12]}},
       "radius": {"field": "lfc", "type": "quantitative", "scale": {"domain": [-2, 2], "range": [64, 104], "zero": false}},
       "color": {"field": "dir", "type": "nominal", "scale": {"domain": ["Up", "Down"], "range": ["#E2505F", "#5676AC"]},
        "legend": {"title": "LogFC", "orient": "none", "legendX": 176, "legendY": 37, "direction": "horizontal", "titleOrient": "left", "titleFont": "Liberation Sans", "titleFontSize": 6.5, "titleFontWeight": "normal", "titleColor": "#333", "labelFont": "Liberation Sans", "labelFontSize": 6.5, "labelColor": "#333", "symbolSize": 20, "symbolType": "circle", "columnPadding": 5, "labelOffset": 2, "titlePadding": 6}}
      }}
    ]
   },
   {
    "spacing": 0,
    "vconcat": [
     {"data": {"name": "cols"}, "width": 402, "height": 19, "view": {"fill": "#E3E3E3"},
      "mark": {"type": "text", "font": "Liberation Serif", "fontSize": 8.2, "color": "#222"},
      "encoding": {
       "x": {"field": "c", "type": "quantitative", "scale": {"domain": [-0.5,0,1,2,3,4,5,6,6.5], "range": [0,27,87,162,227,280,332,380,402], "nice": false, "zero": false}, "axis": {"orient": "top", "labels": false, "ticks": false, "grid": false, "title": null, "domainColor": "#555", "domainWidth": 1.5}},
       "text": {"field": "h", "type": "nominal"}
      }},
     {"data": {"name": "tableA"}, "width": 402, "height": 343,
      "transform": [{"fold": ["ont","id","desc","gr","bg","padj","q"], "as": ["key","v"]}, {"lookup": "key", "from": {"data": {"name": "cols"}, "key": "key", "fields": ["c"]}}],
      "mark": {"type": "text", "font": "Liberation Serif", "fontSize": 8.2, "lineBreak": "\n", "lineHeight": 9.3, "color": "#333"},
      "encoding": {
       "x": {"field": "c", "type": "quantitative", "scale": {"domain": [-0.5,0,1,2,3,4,5,6,6.5], "range": [0,27,87,162,227,280,332,380,402], "nice": false, "zero": false}, "axis": {"orient": "bottom", "labels": false, "ticks": false, "grid": false, "title": null, "domainColor": "#9A9A9A", "domainWidth": 2}},
       "y": {"field": "r", "type": "quantitative", "scale": {"domain": [0.5,1,2,3,4,5,6,7,8,9,10,11,12,12.5], "range": [0,12,39,67,94,119,151,186,221,252,278,304,330,343], "nice": false, "zero": false}, "axis": {"labels": false, "ticks": false, "domain": false, "grid": true, "values": [0.5], "gridColor": "#777", "gridWidth": 1, "title": null}},
       "text": {"field": "v", "type": "nominal"}
      }}
    ]
   }
  ],
  "spacing": 52
 },
 {
  "hconcat": [
   {
    "title": {"text": "B", "offset": -53, "dx": 13},
    "width": 214, "height": 344,
    "resolve": {"scale": {"radius": "independent"}},
    "layer": [
     {"data": {"name": "termsB"}, "mark": {"type": "arc", "radius": 106, "radius2": 63, "padAngle": 0.085, "fill": "#D9D9D9"},
      "encoding": {"theta": {"aggregate": "count", "type": "quantitative", "stack": true, "scale": {"domain": [0, 12]}}, "detail": {"field": "term", "type": "nominal"}, "order": {"field": "k", "type": "quantitative"}}},
     {"data": {"name": "termsB"}, "mark": {"type": "arc", "radius": 74.3, "radius2": 73.3, "padAngle": 0.05, "fill": "#FFFFFF"},
      "encoding": {"theta": {"aggregate": "count", "type": "quantitative", "stack": true, "scale": {"domain": [0, 12]}}, "detail": {"field": "term", "type": "nominal"}, "order": {"field": "k", "type": "quantitative"}}},
     {"data": {"name": "termsB"}, "mark": {"type": "arc", "radius": 85, "radius2": 84, "padAngle": 0.05, "fill": "#FFFFFF"},
      "encoding": {"theta": {"aggregate": "count", "type": "quantitative", "stack": true, "scale": {"domain": [0, 12]}}, "detail": {"field": "term", "type": "nominal"}, "order": {"field": "k", "type": "quantitative"}}},
     {"data": {"name": "termsB"}, "mark": {"type": "arc", "radius": 95.7, "radius2": 94.7, "padAngle": 0.05, "fill": "#FFFFFF"},
      "encoding": {"theta": {"aggregate": "count", "type": "quantitative", "stack": true, "scale": {"domain": [0, 12]}}, "detail": {"field": "term", "type": "nominal"}, "order": {"field": "k", "type": "quantitative"}}},
     {"data": {"name": "termsB"},
      "transform": [{"aggregate": [{"op": "count", "as": "n"}], "groupby": ["k", "term", "z", "padj"]}, {"stack": "n", "groupby": [], "sort": [{"field": "k", "order": "ascending"}], "as": ["t0", "t1"]}],
      "mark": {"type": "arc", "radius2": 26, "padAngle": 0.09, "stroke": "#333333", "strokeWidth": 0.7},
      "encoding": {
       "theta": {"field": "t0", "type": "quantitative", "stack": null, "scale": {"domain": [0, 12]}},
       "theta2": {"field": "t1"},
       "radius": {"field": "padj", "type": "quantitative", "scale": {"type": "log", "domain": [1, 0.002], "range": [30, 52]}},
       "fill": {"field": "z", "type": "quantitative", "scale": {"domain": [-1.414, 0, 1.414], "range": ["#083A8C", "#FFFFFF", "#E60000"], "interpolate": "lab"},
        "legend": {"title": "Z-score", "orient": "none", "legendX": 177, "legendY": 44, "direction": "horizontal", "titleOrient": "left", "gradientLength": 47, "gradientThickness": 8, "values": [-1, -0.5, 0, 0.5, 1], "format": ".1f", "labelOverlap": false, "labelFontSize": 5, "labelFont": "Liberation Sans", "titleFont": "Liberation Sans", "titleFontSize": 6.5, "titleFontWeight": "normal", "titleColor": "#333", "labelColor": "#333", "titlePadding": 4, "gradientStrokeWidth": 0, "labelOffset": 1}}
      }},
     {"data": {"name": "termsB"}, "mark": {"type": "text", "radius": 116, "font": "Liberation Sans", "fontSize": 8.3, "color": "#222222"},
      "encoding": {
       "theta": {"aggregate": "count", "type": "quantitative", "stack": true, "scale": {"domain": [0, 12]}},
       "detail": {"field": "term", "type": "nominal"}, "order": {"field": "k", "type": "quantitative"},
       "text": {"field": "term", "type": "nominal"},
       "angle": {"field": "term", "type": "ordinal", "scale": {"domain": ["hsa00061","hsa01212","GO:0072341","GO:0016616","GO:0004312","GO:0043295","GO:0050662","GO:1900750","GO:0004467","GO:0033218","GO:0004602","GO:0015645"], "range": [15,45,75,-75,-45,-15,15,45,75,-75,-45,-15]}, "legend": null}
      }},
     {"data": {"name": "genesB"}, "mark": {"type": "text", "text": "●", "font": "DejaVu Sans", "fontSize": 8.5, "opacity": 0.9},
      "encoding": {
       "theta": {"field": "pos", "type": "quantitative", "scale": {"domain": [0, 12]}},
       "radius": {"field": "lfc", "type": "quantitative", "scale": {"domain": [-2, 2], "range": [64, 104], "zero": false}},
       "color": {"field": "dir", "type": "nominal", "scale": {"domain": ["Up", "Down"], "range": ["#E2505F", "#5676AC"]},
        "legend": {"title": "LogFC", "orient": "none", "legendX": 177, "legendY": 29, "direction": "horizontal", "titleOrient": "left", "titleFont": "Liberation Sans", "titleFontSize": 6.5, "titleFontWeight": "normal", "titleColor": "#333", "labelFont": "Liberation Sans", "labelFontSize": 6.5, "labelColor": "#333", "symbolSize": 20, "symbolType": "circle", "columnPadding": 5, "labelOffset": 2, "titlePadding": 6}}
      }}
    ]
   },
   {
    "spacing": 0,
    "vconcat": [
     {"data": {"name": "cols"}, "width": 402, "height": 20, "view": {"fill": "#E3E3E3"},
      "mark": {"type": "text", "font": "Liberation Serif", "fontSize": 8.4, "color": "#222"},
      "encoding": {
       "x": {"field": "c", "type": "quantitative", "scale": {"domain": [-0.5,0,1,2,3,4,5,6,6.5], "range": [0,27,89,170,244,290,335,375,402], "nice": false, "zero": false}, "axis": {"orient": "top", "labels": false, "ticks": false, "grid": false, "title": null, "domainColor": "#555", "domainWidth": 1.5}},
       "text": {"field": "h", "type": "nominal"}
      }},
     {"data": {"name": "tableB"}, "width": 402, "height": 315,
      "transform": [{"fold": ["ont","id","desc","gr","bg","padj","q"], "as": ["key","v"]}, {"lookup": "key", "from": {"data": {"name": "cols"}, "key": "key", "fields": ["c"]}}],
      "mark": {"type": "text", "font": "Liberation Serif", "fontSize": 8.4, "lineBreak": "\n", "lineHeight": 9.2, "color": "#333"},
      "encoding": {
       "x": {"field": "c", "type": "quantitative", "scale": {"domain": [-0.5,0,1,2,3,4,5,6,6.5], "range": [0,27,89,170,244,290,335,375,402], "nice": false, "zero": false}, "axis": {"orient": "bottom", "labels": false, "ticks": false, "grid": false, "title": null, "domainColor": "#9A9A9A", "domainWidth": 2}},
       "y": {"field": "r", "type": "quantitative", "scale": {"domain": [0.5,1,2,3,4,5,6,7,8,9,10,11,12,12.5], "range": [0,17,57,98,123,143,163,188,214,239,264,284,305,315], "nice": false, "zero": false}, "axis": {"labels": false, "ticks": false, "domain": false, "grid": true, "values": [0.5], "gridColor": "#777", "gridWidth": 1, "title": null}},
       "text": {"field": "v", "type": "nominal"}
      }}
    ]
   }
  ],
  "spacing": 52
 },
 {
  "hconcat": [
   {
    "title": {"text": "C", "offset": 0, "dx": 12},
    "spacing": 1,
    "vconcat": [
     {"data": {"name": "esC"}, "width": 277, "height": 88, "view": {"stroke": "#555"},
      "transform": [{"lookup": "g", "from": {"data": {"name": "setsC"}, "key": "g", "fields": ["label"]}}],
      "mark": {"type": "line", "strokeWidth": 1.1},
      "encoding": {
       "x": {"field": "x", "type": "quantitative", "scale": {"domain": [-220, 11250], "nice": false, "zero": false}, "axis": {"labels": false, "ticks": false, "domain": false, "grid": true, "values": [0,2000,4000,6000,8000,10000], "title": null}},
       "y": {"field": "y", "type": "quantitative", "scale": {"domain": [-0.65, 0.58], "nice": false, "zero": false}, "axis": {"title": "Enrichment score", "values": [-0.4,-0.2,0,0.2,0.4], "format": ".1f", "grid": true, "domain": false, "titlePadding": 3, "minExtent": 18, "maxExtent": 18}},
       "color": {"field": "label", "type": "nominal", "scale": {"domain": ["FC_GAMMA_R_MEDIATED_PHAGOCYTOSIS(ES=-0.4601,FDR=0.0615)","TGF_BETA_SIGNALING_PATHWAY(ES=-0.4649,FDR=0.0957)","SYSTEMIC_LUPUS_ERYTHEMATOSUS(ES=-0.6138,FDR=0.1056)","ECM_RECEPTOR_INTERACTION(ES=-0.4921,FDR=0.1299)","ADIPOCYTOKINE_SIGNALING_PATHWAY(ES=0.4744,FDR=0.1343)"], "range": ["#E64B35","#4DBBD5","#00A087","#3C5488","#F39B7F"]},
        "legend": {"title": null, "orient": "bottom", "direction": "vertical", "symbolType": "stroke", "symbolStrokeWidth": 1.5, "symbolSize": 25, "labelFont": "Liberation Serif", "labelFontSize": 7.8, "labelColor": "#333", "labelLimit": 0, "rowPadding": 3, "offset": 0, "padding": 0}}
      }},
     {"data": {"name": "rugC"}, "width": 277, "height": 46, "view": {"stroke": "#555"},
      "transform": [{"lookup": "g", "from": {"data": {"name": "setsC"}, "key": "g", "fields": ["label"]}}],
      "layer": [
       {"mark": {"type": "tick", "thickness": 1.1, "size": 9.2},
        "encoding": {
         "x": {"field": "x", "type": "quantitative", "scale": {"domain": [-220, 11250], "nice": false, "zero": false}, "axis": null},
         "y": {"field": "label", "type": "nominal", "scale": {"domain": ["FC_GAMMA_R_MEDIATED_PHAGOCYTOSIS(ES=-0.4601,FDR=0.0615)","TGF_BETA_SIGNALING_PATHWAY(ES=-0.4649,FDR=0.0957)","SYSTEMIC_LUPUS_ERYTHEMATOSUS(ES=-0.6138,FDR=0.1056)","ECM_RECEPTOR_INTERACTION(ES=-0.4921,FDR=0.1299)","ADIPOCYTOKINE_SIGNALING_PATHWAY(ES=0.4744,FDR=0.1343)"], "paddingInner": 0, "paddingOuter": 0}, "axis": null},
         "color": {"field": "label", "type": "nominal"}
        }},
       {"transform": [{"aggregate": [{"op": "count", "as": "n"}], "groupby": ["label"]}],
        "mark": {"type": "rect", "fill": "transparent", "stroke": "#555", "strokeWidth": 0.8},
        "encoding": {"y": {"field": "label", "type": "nominal", "axis": null}}}
      ]},
     {"width": 277, "height": 89, "view": {"stroke": "#555"},
      "layer": [
       {"data": {"name": "metricC"}, "mark": {"type": "area", "color": "#C9C9C9", "interpolate": "monotone"},
        "encoding": {
         "x": {"field": "x", "type": "quantitative", "scale": {"domain": [-220, 11250], "nice": false, "zero": false}, "axis": {"values": [0,2000,4000,6000,8000,10000], "format": ",d", "grid": true, "domain": false, "title": "Rank in Ordered DataSet", "titlePadding": -1, "labelPadding": 0, "tickSize": 2, "labelFontSize": 8}},
         "y": {"field": "m", "type": "quantitative", "scale": {"domain": [-0.31, 0.31], "nice": false, "zero": false}, "axis": {"title": "Ranked list metric", "values": [-0.2,-0.1,0,0.1,0.2], "format": ".1f", "grid": true, "domain": false, "titlePadding": 3, "minExtent": 18, "maxExtent": 18}}
        }},
       {"data": {"values": [{"t": "Low"}]}, "mark": {"type": "text", "align": "left", "baseline": "middle", "font": "Liberation Serif", "fontSize": 8.5, "color": "#333"},
        "encoding": {"x": {"datum": 0, "type": "quantitative"}, "y": {"datum": 0.228, "type": "quantitative"}, "text": {"field": "t", "type": "nominal"}}},
       {"data": {"values": [{"t": "High"}]}, "mark": {"type": "text", "align": "right", "baseline": "middle", "font": "Liberation Serif", "fontSize": 8.5, "color": "#333"},
        "encoding": {"x": {"datum": 11070, "type": "quantitative"}, "y": {"datum": -0.24, "type": "quantitative"}, "text": {"field": "t", "type": "nominal"}}}
      ]}
    ]
   },
   {
    "title": {"text": "D", "offset": 0, "dx": 11},
    "spacing": 1,
    "vconcat": [
     {"data": {"name": "esD"}, "width": 304, "height": 89, "view": {"stroke": "#555"},
      "transform": [{"lookup": "g", "from": {"data": {"name": "setsD"}, "key": "g", "fields": ["label"]}}],
      "mark": {"type": "line", "strokeWidth": 1.1},
      "encoding": {
       "x": {"field": "x", "type": "quantitative", "scale": {"domain": [-200, 10525], "nice": false, "zero": false}, "axis": {"labels": false, "ticks": false, "domain": false, "grid": true, "values": [0,2000,4000,6000,8000,10000], "title": null}},
       "y": {"field": "y", "type": "quantitative", "scale": {"domain": [-0.64, 0.633], "nice": false, "zero": false}, "axis": {"title": "Enrichment score", "values": [-0.4,-0.2,0,0.2,0.4], "format": ".1f", "grid": true, "domain": false, "titlePadding": 3, "minExtent": 18, "maxExtent": 18}},
       "color": {"field": "label", "type": "nominal", "scale": {"domain": ["EPITHELIAL_MESENCHYMAL_TRANSITION(ES=-0.5733,FDR=0.0273)","ANDROGEN_RESPONSE(ES=0.5812,FDR=0.1453)","ALLOGRAFT_REJECTION(ES=-0.5197,FDR=0.1527)","NOTCH_SIGNALING(ES=0.5077,FDR=0.1700)"], "range": ["#E64B35","#4DBBD5","#00A087","#3C5488"]},
        "legend": {"title": null, "orient": "bottom", "direction": "vertical", "symbolType": "stroke", "symbolStrokeWidth": 1.5, "symbolSize": 25, "labelFont": "Liberation Serif", "labelFontSize": 7.8, "labelColor": "#333", "labelLimit": 0, "rowPadding": 5, "offset": -1, "padding": 0}}
      }},
     {"data": {"name": "rugD"}, "width": 304, "height": 46, "view": {"stroke": "#555"},
      "transform": [{"lookup": "g", "from": {"data": {"name": "setsD"}, "key": "g", "fields": ["label"]}}],
      "layer": [
       {"mark": {"type": "tick", "thickness": 1.1, "size": 11.5},
        "encoding": {
         "x": {"field": "x", "type": "quantitative", "scale": {"domain": [-200, 10525], "nice": false, "zero": false}, "axis": null},
         "y": {"field": "label", "type": "nominal", "scale": {"domain": ["EPITHELIAL_MESENCHYMAL_TRANSITION(ES=-0.5733,FDR=0.0273)","ANDROGEN_RESPONSE(ES=0.5812,FDR=0.1453)","ALLOGRAFT_REJECTION(ES=-0.5197,FDR=0.1527)","NOTCH_SIGNALING(ES=0.5077,FDR=0.1700)"], "paddingInner": 0, "paddingOuter": 0}, "axis": null},
         "color": {"field": "label", "type": "nominal"}
        }},
       {"transform": [{"aggregate": [{"op": "count", "as": "n"}], "groupby": ["label"]}],
        "mark": {"type": "rect", "fill": "transparent", "stroke": "#555", "strokeWidth": 0.8},
        "encoding": {"y": {"field": "label", "type": "nominal", "axis": null}}}
      ]},
     {"width": 304, "height": 93, "view": {"stroke": "#555"},
      "layer": [
       {"data": {"name": "metricD"}, "mark": {"type": "area", "color": "#C9C9C9", "interpolate": "monotone"},
        "encoding": {
         "x": {"field": "x", "type": "quantitative", "scale": {"domain": [-200, 10525], "nice": false, "zero": false}, "axis": {"values": [0,2000,4000,6000,8000,10000], "format": ",d", "grid": true, "domain": false, "title": "Rank in Ordered DataSet", "titlePadding": -1, "labelPadding": 0, "tickSize": 2, "labelFontSize": 8}},
         "y": {"field": "m", "type": "quantitative", "scale": {"domain": [-0.3, 0.33], "nice": false, "zero": false}, "axis": {"title": "Ranked list metric", "values": [-0.2,-0.1,0,0.1,0.2], "format": ".1f", "grid": true, "domain": false, "titlePadding": 3, "minExtent": 18, "maxExtent": 18}}
        }},
       {"data": {"values": [{"t": "Low"}]}, "mark": {"type": "text", "align": "left", "baseline": "middle", "font": "Liberation Serif", "fontSize": 8.5, "color": "#333"},
        "encoding": {"x": {"datum": 0, "type": "quantitative"}, "y": {"datum": 0.254, "type": "quantitative"}, "text": {"field": "t", "type": "nominal"}}},
       {"data": {"values": [{"t": "High"}]}, "mark": {"type": "text", "align": "right", "baseline": "middle", "font": "Liberation Serif", "fontSize": 8.5, "color": "#333"},
        "encoding": {"x": {"datum": 10350, "type": "quantitative"}, "y": {"datum": -0.24, "type": "quantitative"}, "text": {"field": "t", "type": "nominal"}}}
      ]}
    ]
   }
  ],
  "spacing": 67,
  "resolve": {"scale": {"color": "independent"}}
 }
],
"spacing": 10,
"resolve": {"scale": {"color": "independent", "fill": "independent", "angle": "independent"}}
}
